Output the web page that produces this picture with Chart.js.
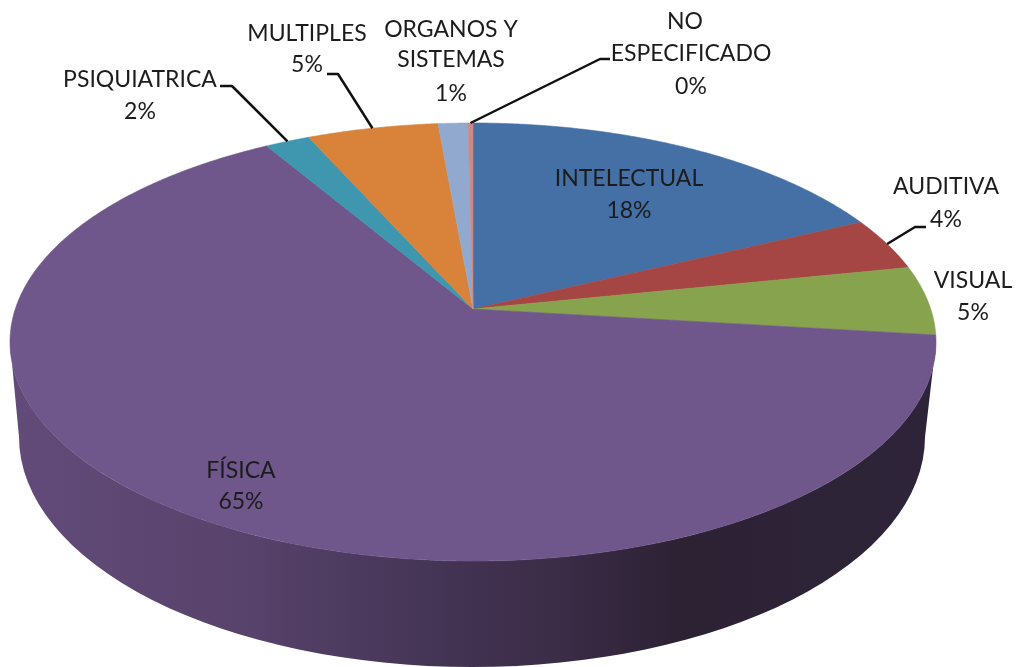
<!DOCTYPE html>
<html lang="es">
<head>
<meta charset="utf-8">
<style>html,body{margin:0;padding:0;background:#fff}canvas{display:block;filter:blur(0.4px)}</style>
<script src="https://cdn.jsdelivr.net/npm/chart.js@4"></script>
</head>
<body>
<canvas id="c" width="1017" height="667"></canvas>
<script>
const categories = ['INTELECTUAL','AUDITIVA','VISUAL','FÍSICA','PSIQUIATRICA','MULTIPLES','ORGANOS Y SISTEMAS','NO ESPECIFICADO'];
const shares = [17.9, 3.9, 5.1, 64.6, 1.8, 5.3, 1.2, 0.2];
const percentLabels = ['18%','4%','5%','65%','2%','5%','1%','0%'];
const sliceColors = ['#4470A5','#A64644','#88A34D','#70578B','#3E97AE','#D98239','#92A9CF','#C98B88'];

// Layout of the 3D look (not data)
const top3d = {cx:473, cy:342, rx:463, ry:219, apexY:309};
const base3d = {cx:472, cy:437, rx:453, ry:230};
const sideStops = [[0,'#624b79'],[0.25,'#58436c'],[0.45,'#453556'],[0.6,'#3a2b46'],[0.72,'#2d2234'],[1,'#2e2439']];
const labelFont = '23px Lato, Carlito, sans-serif';
const textBlocks = [
  {x:629,ys:[179,211],t:['INTELECTUAL',0]},
  {x:946,ys:[187,220],t:['AUDITIVA',1]},
  {x:973,ys:[281,313],t:['VISUAL',2]},
  {x:241,ys:[471,502],t:['FÍSICA',3]},
  {x:140,ys:[80,112],t:['PSIQUIATRICA',4]},
  {x:307,ys:[34,65],t:['MULTIPLES',5]},
  {x:451,ys:[30,60,94],t:['ORGANOS Y','SISTEMAS',6]},
  {x:691,ys:[54,87],t:['ESPECIFICADO',7]},
  {x:685,ys:[22],t:['NO']}
];
const leaders = [
  {i:1,pts:[[915,227],[926,227]]},
  {i:4,pts:[[232,86],[220,86]]},
  {i:5,pts:[[338,74],[327,74]]},
  {i:7,pts:[[600,59],[610,59]]}
];

// Perspective: maps a point on the pie's circle to the tilted face, whose apex sits off the ellipse centre
function project(theta){
  const a = (top3d.apexY - top3d.cy) / top3d.ry;
  const u = Math.cos(theta), v = Math.sin(theta);
  const d = 1 + a * v;
  return [top3d.cx + top3d.rx * u * Math.sqrt(1 - a * a) / d,
          top3d.cy + top3d.ry * (v + a) / d];
}

const pie3d = {
  id:'pie3d',
  beforeDatasetsDraw(chart){
    const ctx = chart.ctx;
    // side wall
    const g = ctx.createLinearGradient(top3d.cx - top3d.rx, 0, top3d.cx + top3d.rx, 0);
    sideStops.forEach(s => g.addColorStop(s[0], s[1]));
    ctx.save();
    ctx.beginPath();
    ctx.ellipse(top3d.cx, top3d.cy, top3d.rx, top3d.ry, 0, Math.PI, 0, true);
    ctx.lineTo(base3d.cx + base3d.rx, base3d.cy);
    ctx.ellipse(base3d.cx, base3d.cy, base3d.rx, base3d.ry, 0, 0, Math.PI, false);
    ctx.closePath();
    ctx.fillStyle = g;
    ctx.fill();
    // top face, one wedge per arc element
    chart.getDatasetMeta(0).data.forEach(el => {
      const {startAngle, endAngle} = el.getProps(['startAngle','endAngle'], true);
      ctx.beginPath();
      ctx.moveTo(top3d.cx, top3d.apexY);
      const n = Math.max(2, Math.ceil((endAngle - startAngle) / 0.005));
      for (let k = 0; k <= n; k++) {
        const p = project(startAngle + (endAngle - startAngle) * k / n);
        ctx.lineTo(p[0], p[1]);
      }
      ctx.closePath();
      ctx.fillStyle = el.options.backgroundColor;
      ctx.strokeStyle = el.options.backgroundColor;
      ctx.lineWidth = 0.6;
      ctx.fill();
      ctx.stroke();
    });
    ctx.restore();
    return false;
  },
  afterDraw(chart){
    const ctx = chart.ctx, arcs = chart.getDatasetMeta(0).data;
    ctx.save();
    ctx.strokeStyle = '#111';
    ctx.lineWidth = 2.5;
    ctx.lineJoin = 'round';
    leaders.forEach(l => {
      const el = arcs[l.i];
      const {startAngle, endAngle} = el.getProps(['startAngle','endAngle'], true);
      const p = project((startAngle + endAngle) / 2);
      ctx.beginPath();
      ctx.moveTo(p[0], p[1]);
      l.pts.forEach(q => ctx.lineTo(q[0], q[1]));
      ctx.stroke();
    });
    ctx.font = labelFont;
    ctx.fillStyle = '#1c1c1c';
    ctx.textAlign = 'center';
    ctx.textBaseline = 'middle';
    textBlocks.forEach(b => b.t.forEach((s, j) => {
      ctx.fillText(typeof s === 'number' ? percentLabels[s] : s, b.x, b.ys[j]);
    }));
    ctx.restore();
  }
};

new Chart(document.getElementById('c'), {
  type:'pie',
  data:{labels:categories, datasets:[{data:shares, backgroundColor:sliceColors, borderWidth:0}]},
  options:{
    responsive:false,
    animation:false,
    plugins:{legend:{display:false}, tooltip:{enabled:false}}
  },
  plugins:[pie3d]
});
</script>
</body>
</html>
